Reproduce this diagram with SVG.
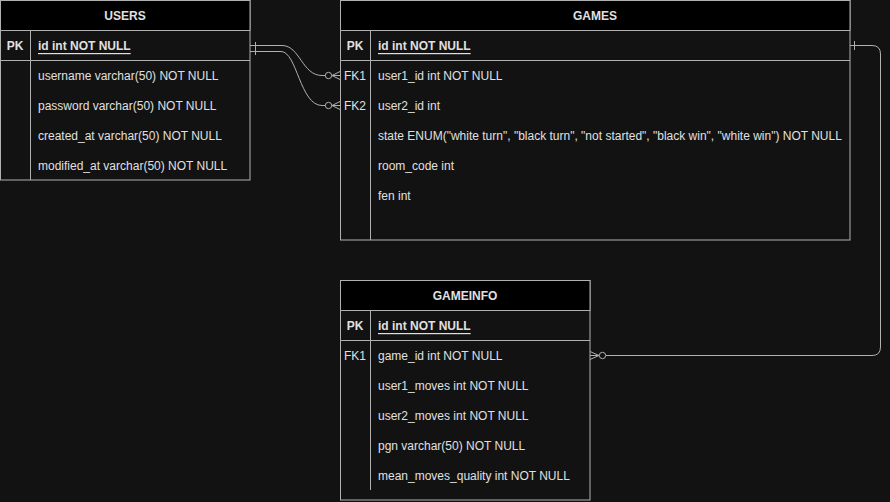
<svg xmlns="http://www.w3.org/2000/svg" width="890" height="502" viewBox="0 0 890 502">
<style>
.bg{fill:#121212}
.box{fill:#121212;stroke:#b0b0b0;stroke-width:1}
.hdr{fill:#000000;stroke:#b0b0b0;stroke-width:1}
.ln{stroke:#b0b0b0;stroke-width:1;fill:none}
text{font-family:"Liberation Sans",Arial,Helvetica,sans-serif;font-size:12px;fill:#e0e0e0;dominant-baseline:central}
.t{font-weight:bold;text-anchor:middle}
.k{text-anchor:middle}
.b{font-weight:bold}
.u{font-weight:bold;text-decoration:underline}
.edge{stroke:#b0b0b0;stroke-width:1;fill:none}
.dot{fill:#121212;stroke:#b0b0b0;stroke-width:1}
</style>
<rect class="bg" x="0" y="0" width="890" height="502"/>

<g id="users">
<rect class="box" x="0.5" y="0.5" width="249.5" height="179.5"/>
<rect class="hdr" x="0.5" y="0.5" width="249.5" height="30"/>
<text class="t" x="125" y="16">USERS</text>
<line class="ln" x1="0.5" y1="60.5" x2="250" y2="60.5"/>
<line class="ln" x1="30.5" y1="30.5" x2="30.5" y2="180"/>
<text class="k b" x="15" y="46">PK</text>
<text class="u" x="38" y="46">id int NOT NULL</text>
<text x="38" y="76">username varchar(50) NOT NULL</text>
<text x="38" y="106">password varchar(50) NOT NULL</text>
<text x="38" y="136">created_at varchar(50) NOT NULL</text>
<text x="38" y="166">modified_at varchar(50) NOT NULL</text>
</g>

<g id="games">
<rect class="box" x="340.5" y="0.5" width="509.5" height="239.5"/>
<rect class="hdr" x="340.5" y="0.5" width="509.5" height="30"/>
<text class="t" x="595" y="16">GAMES</text>
<line class="ln" x1="340.5" y1="60.5" x2="850" y2="60.5"/>
<line class="ln" x1="370.5" y1="30.5" x2="370.5" y2="240"/>
<text class="k b" x="355" y="46">PK</text>
<text class="u" x="378" y="46">id int NOT NULL</text>
<text class="k" x="355" y="76">FK1</text>
<text x="378" y="76">user1_id int NOT NULL</text>
<text class="k" x="355" y="106">FK2</text>
<text x="378" y="106">user2_id int</text>
<text x="378" y="136">state ENUM("white turn", "black turn", "not started", "black win", "white win") NOT NULL</text>
<text x="378" y="166">room_code int</text>
<text x="378" y="196">fen int</text>
</g>

<g id="gameinfo">
<rect class="box" x="340.5" y="280.5" width="249.5" height="219.5"/>
<rect class="hdr" x="340.5" y="280.5" width="249.5" height="30"/>
<text class="t" x="465" y="296">GAMEINFO</text>
<line class="ln" x1="340.5" y1="340.5" x2="590" y2="340.5"/>
<line class="ln" x1="370.5" y1="310.5" x2="370.5" y2="490"/>
<text class="k b" x="355" y="326">PK</text>
<text class="u" x="378" y="326">id int NOT NULL</text>
<text class="k" x="355" y="356">FK1</text>
<text x="378" y="356">game_id int NOT NULL</text>
<text x="378" y="386">user1_moves int NOT NULL</text>
<text x="378" y="416">user2_moves int NOT NULL</text>
<text x="378" y="446">pgn varchar(50) NOT NULL</text>
<text x="378" y="476">mean_moves_quality int NOT NULL</text>
</g>

<g id="connectors">
<!-- users.id -> games.user1_id -->
<path class="edge" d="M250,45.5 L282,45.5 C300,45.5 302,75.5 322,75.5 L340,75.5"/>
<!-- users.id -> games.user2_id -->
<path class="edge" d="M250,51.5 L281,51.5 C297,51.5 300,105.5 322,105.5 L340,105.5"/>
<line class="edge" x1="255.5" y1="42" x2="255.5" y2="55"/>
<circle class="dot" cx="328.5" cy="75.5" r="3.2"/>
<path class="edge" d="M332,75.5 L340,71.5 M332,75.5 L340,75.5 M332,75.5 L340,79.5"/>
<circle class="dot" cx="328.5" cy="105.5" r="3.2"/>
<path class="edge" d="M332,105.5 L340,101.5 M332,105.5 L340,105.5 M332,105.5 L340,109.5"/>
<!-- games.id -> gameinfo.game_id -->
<path class="edge" d="M850,45.5 L872,45.5 Q880.5,45.5 880.5,54 L880.5,347 Q880.5,355.5 872,355.5 L606,355.5"/>
<line class="edge" x1="854.5" y1="41" x2="854.5" y2="50"/>
<circle class="dot" cx="602.5" cy="355.5" r="3.2"/>
<path class="edge" d="M599,355.5 L590,351.5 M599,355.5 L590,355.5 M599,355.5 L590,359.5"/>
</g>
</svg>
